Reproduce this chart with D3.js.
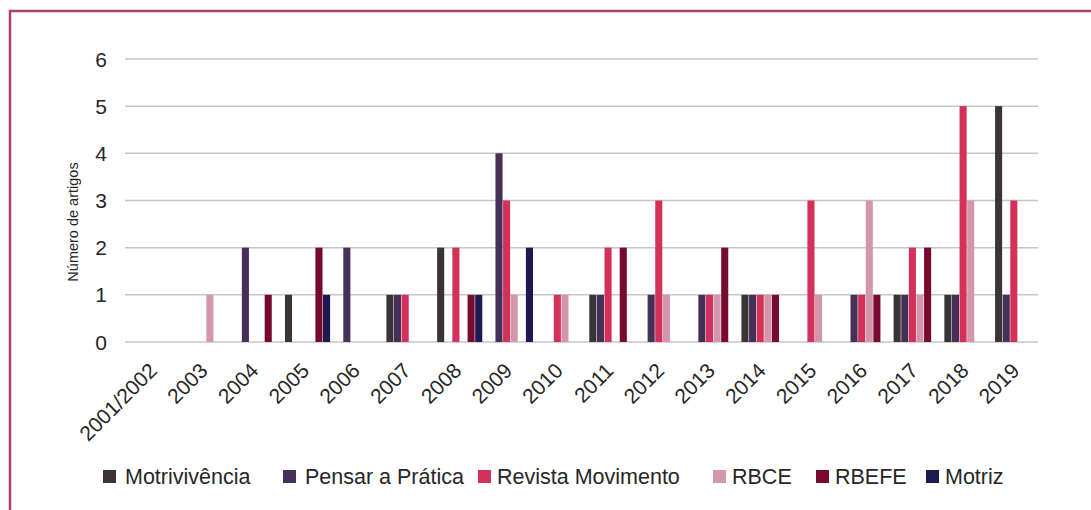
<!DOCTYPE html>
<html>
<head>
<meta charset="utf-8">
<script src="https://cdn.jsdelivr.net/npm/d3@7"></script>
<style>
  body { margin: 0; background: #fff; }
  svg { display: block; font-family: "Liberation Sans", Arial, sans-serif; }
</style>
</head>
<body>
<svg id="chart" width="1091" height="510"></svg>
<script>
// categories and series
var years = ["2001/2002", "2003", "2004", "2005", "2006", "2007", "2008", "2009", "2010",
  "2011", "2012", "2013", "2014", "2015", "2016", "2017", "2018", "2019"];
var journals = ["Motrivivência", "Pensar a Prática", "Revista Movimento", "RBCE", "RBEFE", "Motriz"];
var colors = ["#3a3436", "#45305a", "#d3305a", "#d496ab", "#790a2f", "#1c1a4e"];

// values per journal, one per year
var motrivivencia = [0, 0, 0, 1, 0, 1, 2, 0, 0, 1, 0, 0, 1, 0, 0, 1, 1, 5];
var pensarPratica = [0, 0, 2, 0, 2, 1, 0, 4, 0, 1, 1, 1, 1, 0, 1, 1, 1, 1];
var revistaMovimento = [0, 0, 0, 0, 0, 1, 2, 3, 1, 2, 3, 1, 1, 3, 1, 2, 5, 3];
var rbce = [0, 1, 0, 0, 0, 0, 0, 1, 1, 0, 1, 1, 1, 1, 3, 1, 3, 0];
var rbefe = [0, 0, 1, 2, 0, 0, 1, 0, 0, 2, 0, 2, 1, 0, 1, 2, 0, 0];
var motriz = [0, 0, 0, 1, 0, 0, 1, 2, 0, 0, 0, 0, 0, 0, 0, 0, 0, 0];
var yTicks = [0, 1, 2, 3, 4, 5, 6];

var seriesValues = [motrivivencia, pensarPratica, revistaMovimento, rbce, rbefe, motriz];

var svg = d3.select("#chart");

// frame
svg.append("path")
  .attr("d", "M10,510 V11 H1091")
  .attr("fill", "none")
  .attr("stroke", "#a8426a")
  .attr("stroke-width", 2.5);

// scales
var x0 = d3.scaleBand()
  .domain(years)
  .range([130, 1043])
  .paddingInner(0.11)
  .paddingOuter(0.055);

var x1 = d3.scaleBand()
  .domain(journals)
  .range([0, x0.bandwidth()])
  .paddingInner(0.07);

var y = d3.scaleLinear()
  .domain([0, 6])
  .range([342, 59]);

// gridlines
svg.append("g")
  .selectAll("line")
  .data(yTicks)
  .enter()
  .append("line")
    .attr("x1", 125)
    .attr("x2", 1038)
    .attr("y1", function (d) { return y(d); })
    .attr("y2", function (d) { return y(d); })
    .attr("stroke", "#c6c6c6")
    .attr("stroke-width", 1.5);

// y tick labels
svg.append("g")
  .selectAll("text")
  .data(yTicks)
  .enter()
  .append("text")
    .attr("x", 107)
    .attr("y", function (d) { return y(d); })
    .attr("dy", "0.36em")
    .attr("text-anchor", "end")
    .attr("font-size", 21)
    .attr("fill", "#262626")
    .text(function (d) { return d; });

// y axis title
svg.append("text")
  .attr("transform", "translate(78,222) rotate(-90)")
  .attr("text-anchor", "middle")
  .attr("font-size", 14.5)
  .attr("fill", "#262626")
  .text("Número de artigos");

// bars
var groups = svg.append("g")
  .selectAll("g")
  .data(years)
  .enter()
  .append("g")
    .attr("transform", function (d) { return "translate(" + x0(d) + ",0)"; });

groups.selectAll("rect")
  .data(function (d, i) {
    return journals.map(function (j, k) {
      return { journal: j, value: seriesValues[k][i], color: colors[k] };
    }).filter(function (e) { return e.value > 0; });
  })
  .enter()
  .append("rect")
    .attr("x", function (d) { return x1(d.journal); })
    .attr("width", x1.bandwidth())
    .attr("y", function (d) { return y(d.value); })
    .attr("height", function (d) { return y(0) - y(d.value); })
    .attr("fill", function (d) { return d.color; });

// x labels
svg.append("g")
  .selectAll("text")
  .data(years)
  .enter()
  .append("text")
    .attr("transform", function (d) {
      return "translate(" + (x0(d) + x0.bandwidth() / 2 + 3) + ",372) rotate(-45)";
    })
    .attr("text-anchor", "end")
    .attr("font-size", 21)
    .attr("fill", "#262626")
    .text(function (d) { return d; });

// legend
var legendX = [103, 283, 478, 713, 816, 926];
var legend = svg.append("g")
  .selectAll("g")
  .data(journals)
  .enter()
  .append("g")
    .attr("transform", function (d, i) { return "translate(" + legendX[i] + ",470)"; });

legend.append("rect")
  .attr("width", 13)
  .attr("height", 13)
  .attr("fill", function (d, i) { return colors[i]; });

legend.append("text")
  .attr("x", function (d, i) { return i === 0 || i === 1 ? 22 : 19; })
  .attr("y", 14)
  .attr("font-size", 21.5)
  .attr("fill", "#262626")
  .text(function (d) { return d; });
</script>
</body>
</html>
